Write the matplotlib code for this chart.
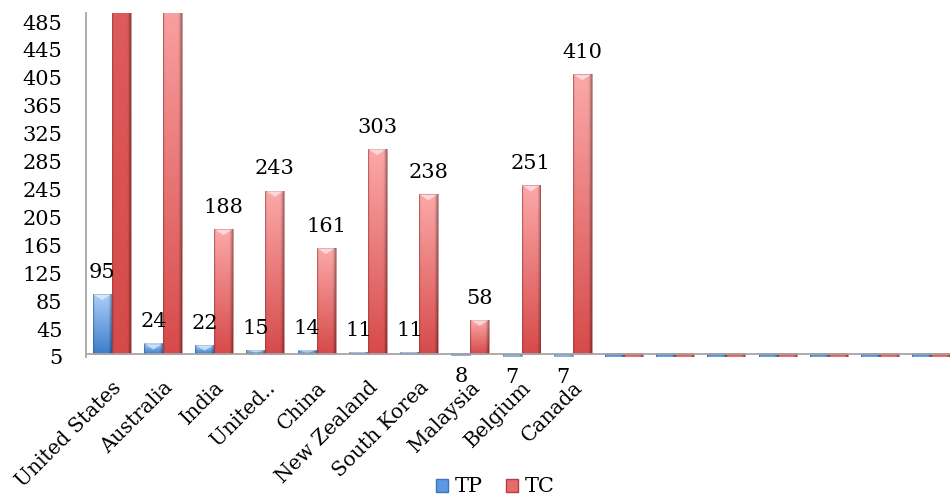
import numpy as np
import matplotlib
matplotlib.use("Agg")
import matplotlib.pyplot as plt
from matplotlib.patches import Polygon, Patch, Rectangle

# ---- data -------------------------------------------------------------
countries = ["United States", "Australia", "India", "United..", "China",
             "New Zealand", "South Korea", "Malaysia", "Belgium", "Canada"]
n_blank = 7  # empty category slots after the named countries
tp = [95, 24, 22, 15, 14, 11, 11, 8, 7, 7]
tc = [2600, 550, 188, 243, 161, 303, 238, 58, 251, 410]
y_ticks = list(range(5, 486, 40))

labels = countries + [""] * n_blank
tp_all = tp + [0] * n_blank
tc_all = tc + [0] * n_blank

# ---- styling ----------------------------------------------------------
plt.rcParams["font.family"] = ["DejaVu Serif"]
FS = 15
CROSS = 9.5          # value where the category axis crosses
Y_MIN, Y_MAX = 5, 498
BAR_W = 0.37

blue_light = np.array([0.67, 0.81, 0.97])
blue_dark = np.array([0.24, 0.49, 0.80])
red_light = np.array([0.99, 0.66, 0.66])
red_dark = np.array([0.84, 0.29, 0.29])


def draw_bar(ax, xc, val, light, dark):
    x0, x1 = xc - BAR_W / 2, xc + BAR_W / 2
    lo, hi = min(CROSS, val), max(CROSS, val)
    ny, nx = 160, 40
    t = np.linspace(0, 1, ny)[:, None]
    if val < CROSS:
        t = 1 - t
    col = dark + (light - dark) * t[..., None]
    u = np.linspace(0, 1, nx)[None, :]
    shade = (1 - 0.38 * np.clip((u - 0.80) / 0.20, 0, 1) ** 1.5
             - 0.12 * np.clip((0.12 - u) / 0.12, 0, 1))
    img = np.clip(col * shade[..., None], 0, 1)
    ax.imshow(img, extent=(x0, x1, lo, hi), origin="lower", aspect="auto",
              interpolation="bilinear", zorder=2)
    ax.add_patch(Rectangle((x0, lo), BAR_W, hi - lo, fill=False,
                           edgecolor=dark * 0.75, lw=0.6, alpha=0.6, zorder=2.5))
    # bevel highlight at the top of upright bars
    if CROSS < val < Y_MAX:
        h = min(8.5, 0.65 * (val - CROSS))
        ax.add_patch(Polygon([(x0 + 0.01, val), (x1 - 0.01, val), (xc, val - h)],
                             closed=True, facecolor="white", edgecolor="none",
                             alpha=0.55, zorder=3))


fig = plt.figure(figsize=(9.5, 4.98), dpi=100)
ax = fig.add_axes([86 / 950, (498 - 357) / 498, (957 - 86) / 950, (357 - 13) / 498])

x = np.arange(len(labels))
for i in x:
    draw_bar(ax, i - BAR_W / 2, tp_all[i], blue_light, blue_dark)
    draw_bar(ax, i + BAR_W / 2, tc_all[i], red_light, red_dark)

# value labels for the named countries
for i in range(len(countries)):
    for xc, v in ((i - BAR_W / 2, tp[i]), (i + BAR_W / 2, tc[i])):
        off = 22 if v >= CROSS else -22
        ax.annotate(str(v), xy=(xc, v), xytext=(0, off),
                    textcoords="offset pixels", ha="center", va="center",
                    fontsize=FS, annotation_clip=True, zorder=4)

ax.set_xlim(-0.5, len(labels) - 0.5)
ax.set_ylim(Y_MIN, Y_MAX)
ax.axhline(CROSS, color="#a6a6a6", lw=1.3, zorder=3.5)

for s in ("top", "right", "bottom"):
    ax.spines[s].set_visible(False)
ax.spines["left"].set_color("#a6a6a6")
ax.spines["left"].set_linewidth(1.3)

ax.set_yticks(y_ticks)
ax.tick_params(axis="y", length=0, pad=17, labelsize=FS)
ax.set_xticks(x)
ax.set_xticklabels(labels, rotation=45, ha="right", rotation_mode="anchor",
                   fontsize=14.5)
ax.tick_params(axis="x", length=0, pad=15)

handles = [Patch(facecolor=(0.36, 0.60, 0.88), edgecolor=(0.25, 0.45, 0.75), label="TP"),
           Patch(facecolor=(0.91, 0.42, 0.42), edgecolor=(0.70, 0.25, 0.25), label="TC")]
fig.legend(handles=handles, loc="center", bbox_to_anchor=(495 / 950, 1 - 487 / 498),
           ncol=2, frameon=False, fontsize=FS, handlelength=0.6, handleheight=0.6,
           handletextpad=0.3, columnspacing=1.1, borderpad=0)

fig.savefig("out.png", dpi=100)
